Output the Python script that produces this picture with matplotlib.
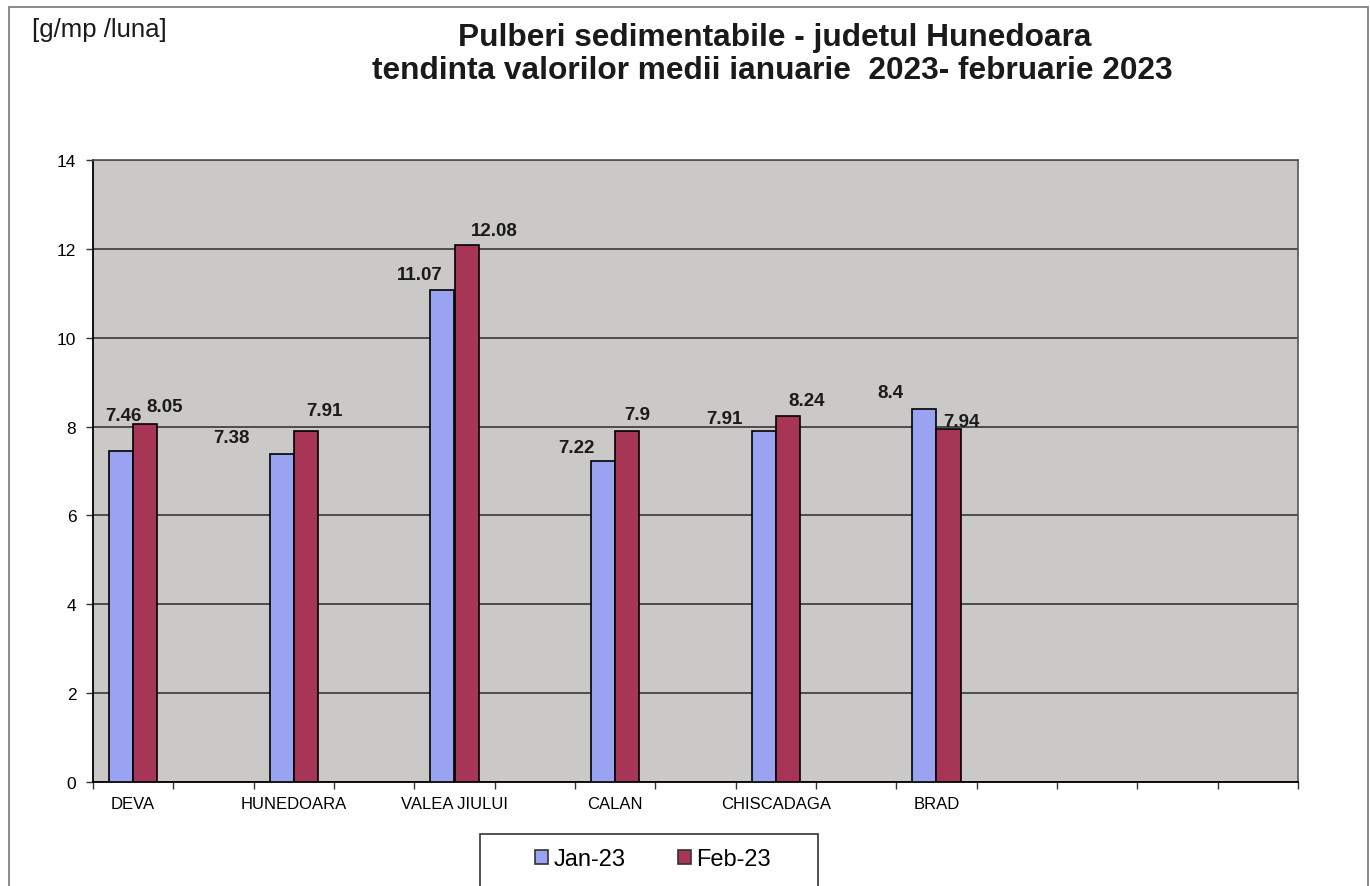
import numpy as np
import matplotlib.pyplot as plt
from matplotlib.patches import Rectangle, Patch

# ---------------------------------------------------------------------------
# date: pulberi sedimentabile [g/mp/luna], medii lunare
# ---------------------------------------------------------------------------
statii = ["DEVA", "HUNEDOARA", "VALEA JIULUI", "CALAN", "CHISCADAGA", "BRAD"]
jan23 = [7.46, 7.38, 11.07, 7.22, 7.91, 8.4]
feb23 = [8.05, 7.91, 12.08, 7.9, 8.24, 7.94]
serii = ["Jan-23", "Feb-23"]

# pozitii etichete (dx, dy in pixeli fata de varful barei) - asezate ca in original
off_jan = [(2, 35), (-50, 17), (-23, 16), (-27, 14), (-39, 12), (-34, 16)]
off_feb = [(19, 18), (19, 20), (28, 15), (10, 17), (19, 15), (13, 8)]

c_jan = '#9aa2f2'
c_feb = '#a63556'
c_bg = '#cbc9c7'

plt.rcParams['font.family'] = ['Liberation Sans', 'DejaVu Sans']

W, H = 1370, 887
fig = plt.figure(figsize=(W / 100, H / 100), dpi=100)


def fx(px):
    return px / W


def fy(py):
    return 1 - py / H


ax = fig.add_axes([fx(93), fy(783), fx(1298) - fx(93), fy(161) - fy(783)])
ax.set_facecolor(c_bg)

n_slots = 15                      # categorii in axa (cu goluri intre statii)
x = np.arange(len(statii)) * 2
w = 0.3

ax.bar(x - w / 2, jan23, w, color=c_jan, edgecolor='black', linewidth=1.2, zorder=3)
ax.bar(x + w / 2, feb23, w, color=c_feb, edgecolor='black', linewidth=1.2, zorder=3)

for i in range(len(statii)):
    ax.annotate(str(jan23[i]), (x[i] - w / 2, jan23[i]), xytext=off_jan[i],
                textcoords='offset pixels', ha='center', va='center',
                fontsize=13.5, fontweight='bold', color='#1a1a1a', zorder=5)
    ax.annotate(str(feb23[i]), (x[i] + w / 2, feb23[i]), xytext=off_feb[i],
                textcoords='offset pixels', ha='center', va='center',
                fontsize=13.5, fontweight='bold', color='#1a1a1a', zorder=5)

ax.set_xlim(-0.5, n_slots - 0.5)
ax.set_ylim(0, 14)
ax.set_yticks(np.arange(0, 15, 2))
ax.yaxis.grid(True, color='#2a2a2a', linewidth=1.1, zorder=1)
ax.set_axisbelow(True)

ax.set_xticks(x)
ax.set_xticklabels(statii, fontsize=12)
ax.set_xticks(np.arange(-0.5, n_slots, 1), minor=True)
ax.tick_params(axis='x', which='major', length=0, pad=10)
ax.tick_params(axis='x', which='minor', length=5, width=1, direction='out', color='#333333')
ax.tick_params(axis='y', length=5, width=1, direction='out', labelsize=12.5, pad=7, color='#333333')

for s in ['left', 'bottom']:
    ax.spines[s].set_color('black')
    ax.spines[s].set_linewidth(1.3)
for s in ['top', 'right']:
    ax.spines[s].set_color('#555555')
    ax.spines[s].set_linewidth(1.2)

# titlu si unitate
fig.text(fx(775), fy(38), "Pulberi sedimentabile - judetul Hunedoara", ha='center', va='center',
         fontsize=22.8, fontweight='bold', color='#1a1a1a')
fig.text(fx(772), fy(71), "tendinta valorilor medii ianuarie  2023- februarie 2023", ha='center',
         va='center', fontsize=22.8, fontweight='bold', color='#1a1a1a')
fig.text(fx(32), fy(30), "[g/mp /luna]", ha='left', va='center', fontsize=18.5, color='#1a1a1a')

# chenar exterior al graficului
fig.patches.append(Rectangle((fx(9), fy(900)), fx(1368) - fx(9), fy(8) - fy(900),
                             transform=fig.transFigure, fill=False, edgecolor='#777777',
                             linewidth=1.2))

# legenda (chenarul iese din imagine in original)
fig.patches.append(Rectangle((fx(480), fy(900)), fx(818) - fx(480), fy(835) - fy(900),
                             transform=fig.transFigure, fill=False, edgecolor='#333333',
                             linewidth=1.2))
handles = [Patch(facecolor=c_jan, edgecolor='#333333', linewidth=1.2),
           Patch(facecolor=c_feb, edgecolor='#333333', linewidth=1.2)]
fig.legend(handles, serii, loc='center', bbox_to_anchor=(fx(653), fy(860)), ncol=2,
           frameon=False, fontsize=17, handlelength=0.55, handleheight=0.55,
           handletextpad=0.25, columnspacing=2.2)

fig.savefig('out.png', dpi=100, facecolor='white')
